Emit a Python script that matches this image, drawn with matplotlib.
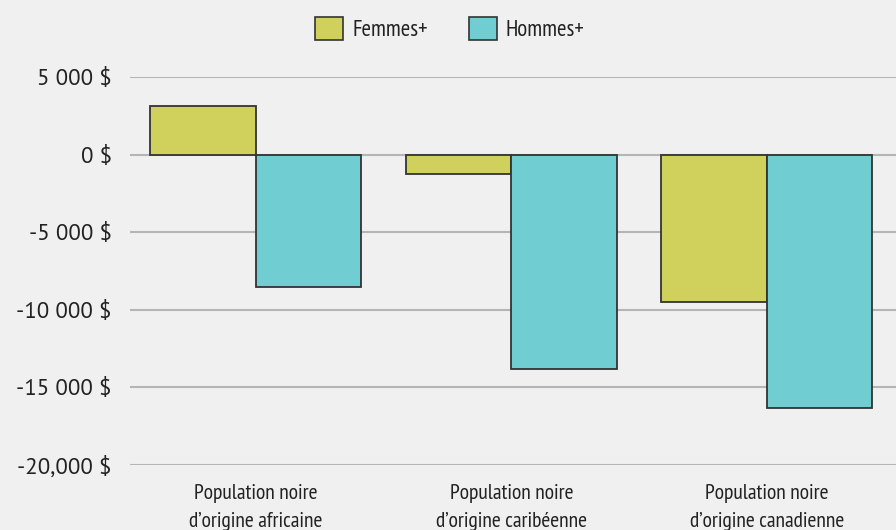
import matplotlib
matplotlib.use("Agg")
import matplotlib.pyplot as plt
from matplotlib.patches import Patch
from matplotlib import font_manager
import numpy as np

categories = ["Population noire\nd\u2019origine africaine",
              "Population noire\nd\u2019origine caribéenne",
              "Population noire\nd\u2019origine canadienne"]
femmes = [3100, -1250, -9500]
hommes = [-8500, -13800, -16300]
series_names = ["Femmes+", "Hommes+"]
ytick_values = [5000, 0, -5000, -10000, -15000, -20000]
ytick_labels = ["5 000 $", "0 $", "-5 000 $", "-10 000 $", "-15 000 $", "-20,000 $"]

names = {f.name for f in font_manager.fontManager.ttflist}
narrow = "PT Sans Narrow" if "PT Sans Narrow" in names else "DejaVu Sans"
regular = "PT Sans" if "PT Sans" in names else "DejaVu Sans"

bg = "#f0f0f0"
c_f = "#d0d15c"
c_h = "#70cdd2"
edge = "#333333"

fig = plt.figure(figsize=(8.96, 5.30), dpi=100, facecolor=bg)
ax = fig.add_axes([130/896, 1-465/530, 1-130/896, (465-77)/530])
ax.set_facecolor(bg)

x = np.arange(len(categories))
w = 0.413
ax.bar(x - w/2, femmes, w, color=c_f, edgecolor=edge, linewidth=1.3, zorder=3, label=series_names[0])
ax.bar(x + w/2, hommes, w, color=c_h, edgecolor=edge, linewidth=1.3, zorder=3, label=series_names[1])

ax.set_xlim(-0.493, 2.505)
ax.set_ylim(-20000, 5000)
ax.set_yticks(ytick_values)
ax.set_yticklabels(ytick_labels, fontfamily=regular, fontsize=16.5, color="#222222")
ax.set_xticks(x)
ax.set_xticklabels(categories, fontfamily=narrow, fontsize=15.5, color="#222222", linespacing=1.6)
ax.tick_params(axis="both", length=0)
ax.tick_params(axis="y", pad=13)
ax.tick_params(axis="x", pad=14)
ax.yaxis.grid(True, color="#b5b5b5", linewidth=1.5, zorder=0)
ax.set_axisbelow(True)
for s in ax.spines.values():
    s.set_visible(False)

handles = [Patch(facecolor=c_f, edgecolor=edge, linewidth=1.2),
           Patch(facecolor=c_h, edgecolor=edge, linewidth=1.2)]
leg = fig.legend(handles, series_names, loc="center", bbox_to_anchor=(450/896, 1-29/530),
                 ncol=2, frameon=False, handlelength=1.2, handleheight=1.2,
                 handletextpad=0.4, columnspacing=1.8,
                 prop={"family": narrow, "size": 16.5})
for t in leg.get_texts():
    t.set_color("#222222")

fig.savefig("out.png", dpi=100, facecolor=bg)
